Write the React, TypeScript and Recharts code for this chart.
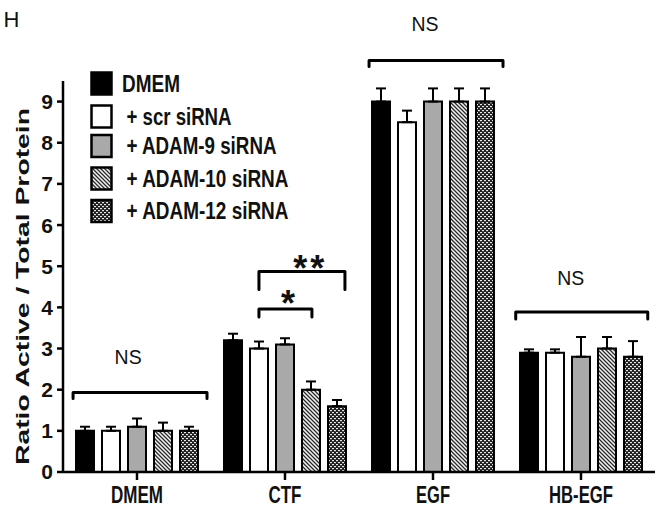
import React from 'react';
import {
  BarChart,
  Bar,
  XAxis,
  YAxis,
  ErrorBar,
  ReferenceLine,
  Customized,
} from 'recharts';

// ---------- data ----------
const categories = ['DMEM', 'CTF', 'EGF', 'HB-EGF'];
const seriesNames = ['DMEM', '+ scr siRNA', '+ ADAM-9 siRNA', '+ ADAM-10 siRNA', '+ ADAM-12 siRNA'];

const dmemValues = [1.0, 3.2, 9.0, 2.9];
const dmemErrors = [0.1, 0.16, 0.32, 0.08];
const scrValues = [1.0, 3.0, 8.5, 2.9];
const scrErrors = [0.1, 0.17, 0.28, 0.08];
const adam9Values = [1.1, 3.1, 9.0, 2.8];
const adam9Errors = [0.2, 0.15, 0.32, 0.48];
const adam10Values = [1.0, 2.0, 9.0, 3.0];
const adam10Errors = [0.2, 0.2, 0.32, 0.28];
const adam12Values = [1.0, 1.6, 9.0, 2.8];
const adam12Errors = [0.1, 0.15, 0.32, 0.38];

const yTicks = [0, 1, 2, 3, 4, 5, 6, 7, 8, 9];

// significance brackets: x in category units (0 = left edge of first category, 4 = right edge of last), y in data units
const brackets = [
  { x1: 0.068, x2: 0.973, y: 1.93, drop: 6 },
  { x1: 1.324, x2: 1.682, y: 3.96, drop: 8 },
  { x1: 1.324, x2: 1.905, y: 4.87, drop: 18 },
  { x1: 2.068, x2: 2.973, y: 10.0, drop: 6 },
  { x1: 3.059, x2: 3.951, y: 3.89, drop: 7 },
];
const annotations = [
  { x: 0.44, y: 2.8, text: 'NS' },
  { x: 1.52, y: 4.27, text: '*' },
  { x: 1.67, y: 5.12, text: '**' },
  { x: 2.446, y: 10.89, text: 'NS' },
  { x: 3.43, y: 4.71, text: 'NS' },
];

const valueSets = [dmemValues, scrValues, adam9Values, adam10Values, adam12Values];
const errorSets = [dmemErrors, scrErrors, adam9Errors, adam10Errors, adam12Errors];

const data = categories.map((c, i) => {
  const row: any = { category: c };
  valueSets.forEach((vals, s) => {
    row['s' + s] = vals[i];
    row['e' + s] = [0, errorSets[s][i]];
  });
  return row;
});

// ---------- styles ----------
const FONT = "'Liberation Sans', Arial, sans-serif";
const fills = ['#000000', '#ffffff', '#a9a9a9', 'url(#hatch10)', 'url(#weave12)'];
const xLabelWidths: Record<string, number> = { DMEM: 52, CTF: 33, EGF: 34, 'HB-EGF': 64 };
const legendCenters = [83.5, 116.5, 146, 178.5, 211];
const legendTextX = [122, 126.5, 126.5, 126.5, 126.5];
const legendTextW = [58, 105, 150, 162, 162];
const N_CAT = categories.length;

const Extras = () => (
  <g>
    <defs>
      <pattern id="hatch10" patternUnits="userSpaceOnUse" width="4" height="4">
        <rect width="4" height="4" fill="#f4f4f4" />
        <path d="M-1,-1 L5,5 M-1,3 L1,5 M3,-1 L5,1" stroke="#2a2a2a" strokeWidth="1.3" />
      </pattern>
      <pattern id="weave12" patternUnits="userSpaceOnUse" width="4" height="4">
        <rect width="4" height="4" fill="#1e1e1e" />
        <rect x="0" y="0" width="2" height="1.2" fill="#e8e8e8" />
        <rect x="2" y="2" width="2" height="1.2" fill="#e8e8e8" />
      </pattern>
    </defs>
    <text x={3.5} y={26.5} fontSize={22} fontFamily={FONT} fill="#111">H</text>
    <text
      transform="rotate(-90)"
      x={-286.5}
      y={28.5}
      textAnchor="middle"
      fontSize={18}
      fontWeight="bold"
      fontFamily={FONT}
      fill="#111"
      textLength={357}
      lengthAdjust="spacingAndGlyphs"
    >
      Ratio Active / Total Protein
    </text>
    {seriesNames.map((n, i) => (
      <g key={n}>
        <rect
          x={91.5}
          y={legendCenters[i] - 11}
          width={20}
          height={22}
          fill={fills[i]}
          stroke="#000"
          strokeWidth={2.5}
        />
        <text
          x={legendTextX[i]}
          y={legendCenters[i] + 8.3}
          fontSize={23}
          fontWeight="bold"
          fontFamily={FONT}
          fill="#111"
          textLength={legendTextW[i]}
          lengthAdjust="spacingAndGlyphs"
        >
          {n}
        </text>
      </g>
    ))}
  </g>
);

const XTick = (props: any) => {
  const { x, y, payload } = props;
  const label = String(payload.value);
  return (
    <text
      x={x}
      y={y + 21}
      textAnchor="middle"
      fontSize={23}
      fontWeight="bold"
      fontFamily={FONT}
      fill="#111"
      textLength={xLabelWidths[label] || 40}
      lengthAdjust="spacingAndGlyphs"
    >
      {label}
    </text>
  );
};

const BracketShape = (props: any) => {
  const { x1, x2, y1, v1, v2, drop } = props;
  const left = Math.min(x1, x2);
  const w = Math.abs(x2 - x1);
  const a = left + (w * v1) / N_CAT;
  const b = left + (w * v2) / N_CAT;
  return (
    <path
      d={`M${a},${y1 + drop} L${a},${y1} L${b},${y1} L${b},${y1 + drop}`}
      fill="none"
      stroke="#000"
      strokeWidth={3}
      strokeLinejoin="round"
      strokeLinecap="round"
    />
  );
};

const AnnLabel = (props: any) => {
  const { viewBox, text, v } = props;
  const cx = viewBox.x + (viewBox.width * v) / N_CAT;
  const cy = viewBox.y + (viewBox.height || 0) / 2;
  if (text === 'NS') {
    return (
      <text
        x={cx}
        y={cy + 7.2}
        textAnchor="middle"
        fontSize={20}
        fontFamily={FONT}
        fill="#111"
        textLength={27}
        lengthAdjust="spacingAndGlyphs"
      >
        NS
      </text>
    );
  }
  return (
    <text
      x={cx}
      y={cy + 20}
      textAnchor="middle"
      fontSize={36}
      fontWeight="bold"
      fontFamily={FONT}
      fill="#111"
      letterSpacing={text.length > 1 ? 3 : 0}
    >
      {text}
    </text>
  );
};

export default function App() {
  return (
    <div style={{ position: 'absolute', left: 0, top: 0, width: 664, height: 509, background: '#fff' }}>
      <BarChart
        width={664}
        height={509}
        data={data}
        margin={{ top: 81, right: 9, bottom: 0, left: 0 }}
        barCategoryGap={13}
        barGap={8}
      >
        <Customized component={Extras} />
        <XAxis
          dataKey="category"
          height={37}
          axisLine={{ stroke: '#000', strokeWidth: 2.5 }}
          tickLine={{ stroke: '#000', strokeWidth: 2.5 }}
          tickSize={8}
          tick={<XTick />}
          interval={0}
        />
        <YAxis
          width={63}
          domain={[0, 9.5]}
          ticks={yTicks}
          interval={0}
          allowDataOverflow
          axisLine={{ stroke: '#000', strokeWidth: 2.5 }}
          tickLine={{ stroke: '#000', strokeWidth: 2.5 }}
          tickSize={6}
          tickMargin={4}
          tick={{ fontSize: 21, fontWeight: 'bold', fill: '#111', fontFamily: FONT }}
        />
        {seriesNames.map((n, s) => (
          <Bar
            key={n}
            dataKey={'s' + s}
            name={n}
            barSize={18}
            fill={fills[s]}
            stroke="#000"
            strokeWidth={2}
            isAnimationActive={false}
          >
            <ErrorBar dataKey={'e' + s} direction="y" width={5} stroke="#000" strokeWidth={2} />
          </Bar>
        ))}
        {brackets.map((b, i) => (
          <ReferenceLine
            key={'b' + i}
            y={b.y}
            ifOverflow="visible"
            stroke="#000"
            shape={(p: any) => <BracketShape {...p} v1={b.x1} v2={b.x2} drop={b.drop} />}
          />
        ))}
        {annotations.map((a, i) => (
          <ReferenceLine
            key={'a' + i}
            y={a.y}
            ifOverflow="visible"
            stroke="none"
            label={<AnnLabel text={a.text} v={a.x} />}
          />
        ))}
      </BarChart>
    </div>
  );
}
